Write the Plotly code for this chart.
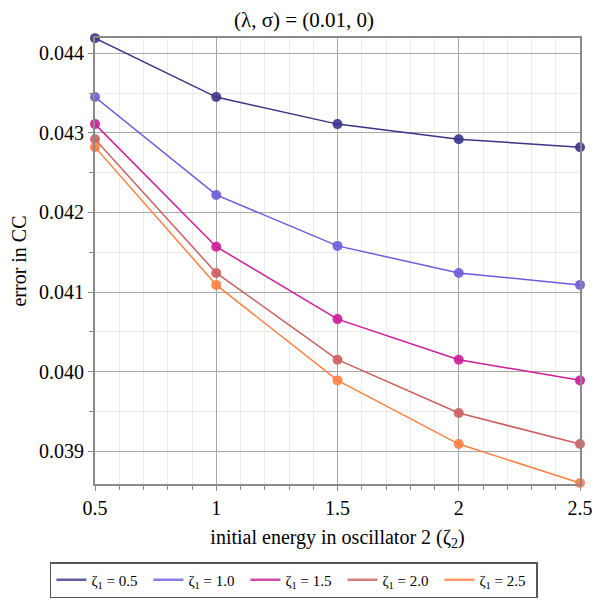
import plotly.graph_objects as go

##========[ DATA ]========##
zeta2 = [0.5, 1.0, 1.5, 2.0, 2.5]

err_z05 = [0.04419, 0.04345, 0.04311, 0.04292, 0.04282]
err_z10 = [0.04345, 0.04222, 0.04158, 0.04124, 0.04109]
err_z15 = [0.04311, 0.04157, 0.04066, 0.04015, 0.03989]
err_z20 = [0.04292, 0.04124, 0.04015, 0.03948, 0.03909]
err_z25 = [0.04282, 0.04109, 0.03989, 0.03909, 0.03860]

series_names = ["ζ<sub>1</sub> = 0.5", "ζ<sub>1</sub> = 1.0", "ζ<sub>1</sub> = 1.5",
                "ζ<sub>1</sub> = 2.0", "ζ<sub>1</sub> = 2.5"]
series_vals = [err_z05, err_z10, err_z15, err_z20, err_z25]
colors = ["#3c3486", "#6c5cdc", "#cc1c98", "#cc5e5e", "#ff8042"]

SERIF = "Liberation Serif"

fig = go.Figure()
for name, vals, col in zip(series_names, series_vals, colors):
    # the data itself, kept out of the legend
    fig.add_trace(go.Scatter(
        x=zeta2, y=vals, name=name, mode="lines+markers",
        line=dict(color=col, width=1.5),
        marker=dict(color=col, size=10, opacity=0.9),
        cliponaxis=False, showlegend=False,
    ))
    # legend entry as a plain line (no marker), like the original
    fig.add_trace(go.Scatter(
        x=[None], y=[None], name=name, mode="lines",
        line=dict(color=col, width=2.5), opacity=0.8, showlegend=True,
    ))

axis_common = dict(
    showline=True, mirror=True, linecolor="#8a8a8a", linewidth=2,
    showgrid=True, gridcolor="#a8a8a8", gridwidth=1,
    ticks="outside", ticklen=5, tickcolor="#888",
    tickfont=dict(family=SERIF, size=20, color="black"),
    zeroline=False, automargin=False,
)

fig.update_xaxes(
    range=[0.5, 2.5], tickvals=zeta2, ticktext=["0.5", "1", "1.5", "2", "2.5"],
    minor=dict(dtick=0.1, showgrid=True, gridcolor="#ebebeb", ticks="outside",
               ticklen=4, tickcolor="#888"),
    title=dict(text="initial energy in oscillator 2 (ζ<sub>2</sub>)",
               font=dict(family=SERIF, size=20, color="black"), standoff=12),
    **axis_common,
)
fig.update_yaxes(
    range=[0.038588, 0.044192], dtick=0.001, tick0=0.039, tickformat=".3f",
    minor=dict(dtick=0.0005, showgrid=True, gridcolor="#ebebeb", ticks="outside",
               ticklen=4, tickcolor="#888"),
    title=dict(text="error in CC", font=dict(family=SERIF, size=20, color="black"),
               standoff=8),
    **axis_common,
)

# page body adds ~8px offset, so the figure is drawn 8px smaller
fig.update_layout(
    width=592, height=592,
    margin=dict(l=87, r=20, t=30, b=116, autoexpand=False),
    paper_bgcolor="white", plot_bgcolor="white",
    font=dict(family=SERIF, color="black"),
    title=dict(text="(λ, σ) = (0.01, 0)", x=0.5, xanchor="center", y=0.98, yanchor="middle",
               font=dict(family=SERIF, size=21, color="black")),
    legend=dict(orientation="h", x=-0.093, xanchor="left", y=-0.175, yanchor="top",
                bordercolor="#555", borderwidth=1.5,
                font=dict(family=SERIF, size=15, color="black"),
                itemwidth=30, entrywidth=52, entrywidthmode="pixels"),
    showlegend=True,
)

fig.write_html("out.html")
